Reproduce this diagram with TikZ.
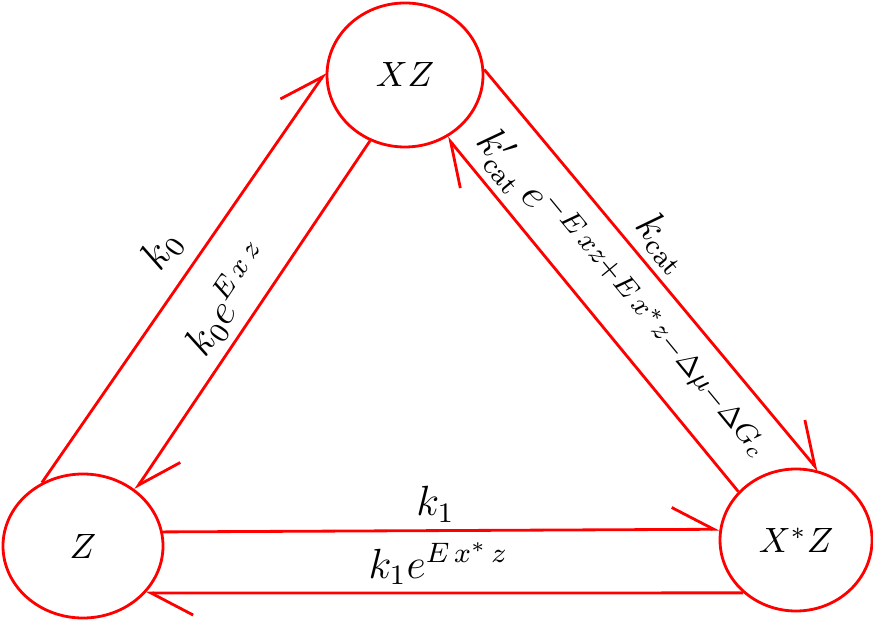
\documentclass[tikz,border=0pt]{standalone}
\usetikzlibrary{shapes.geometric,arrows.meta}
\begin{document}
\begin{tikzpicture}
  [every node/.style={ellipse,draw=red,thick,inner sep=0pt},
   rxn/.style={red,thick,-{Straight Barb[left,length=4.2mm,width=4.4mm]}},
   lbl/.style={rectangle,draw=none,text=black,sloped,inner sep=2pt,font=\large}]
  \useasboundingbox (0,0) rectangle (8.73,6.21);
  \node[minimum width=1.56cm,minimum height=1.44cm] (XZ) at (4.05,5.46) {$XZ$};
  \node[minimum width=1.60cm,minimum height=1.44cm] (Z) at (0.83,0.75) {$Z$};
  \node[minimum width=1.52cm,minimum height=1.42cm] (XsZ) at (7.96,0.81) {$X^*Z$};

  \draw[rxn] (Z.123) -- (XZ.178) node[lbl,above,inner sep=4pt,pos=0.52] {$k_0$};
  \draw[rxn] (XZ.242) -- (Z.47) node[lbl,above,pos=0.5] {$k_0e^{E\,x\,z}$};
  \draw[rxn] (XZ.4) -- (XsZ.72) node[lbl,above,pos=0.475] {$k_{\mathrm{cat}}$};
  \draw[rxn] (XsZ.140) -- (XZ.304)
    node[lbl,above,pos=0.49] {$k'_{\mathrm{cat}}\,e^{-E\,xz+E\,x^*z-\Delta\mu-\Delta G_c}$};
  \draw[rxn] (Z.10) -- (XsZ.172) node[lbl,above,pos=0.49] {$k_1$};
  \draw[rxn] (XsZ.225) -- (Z.323) node[lbl,above,pos=0.51] {$k_1e^{E\,x^*\,z}$};

\end{tikzpicture}
\end{document}
